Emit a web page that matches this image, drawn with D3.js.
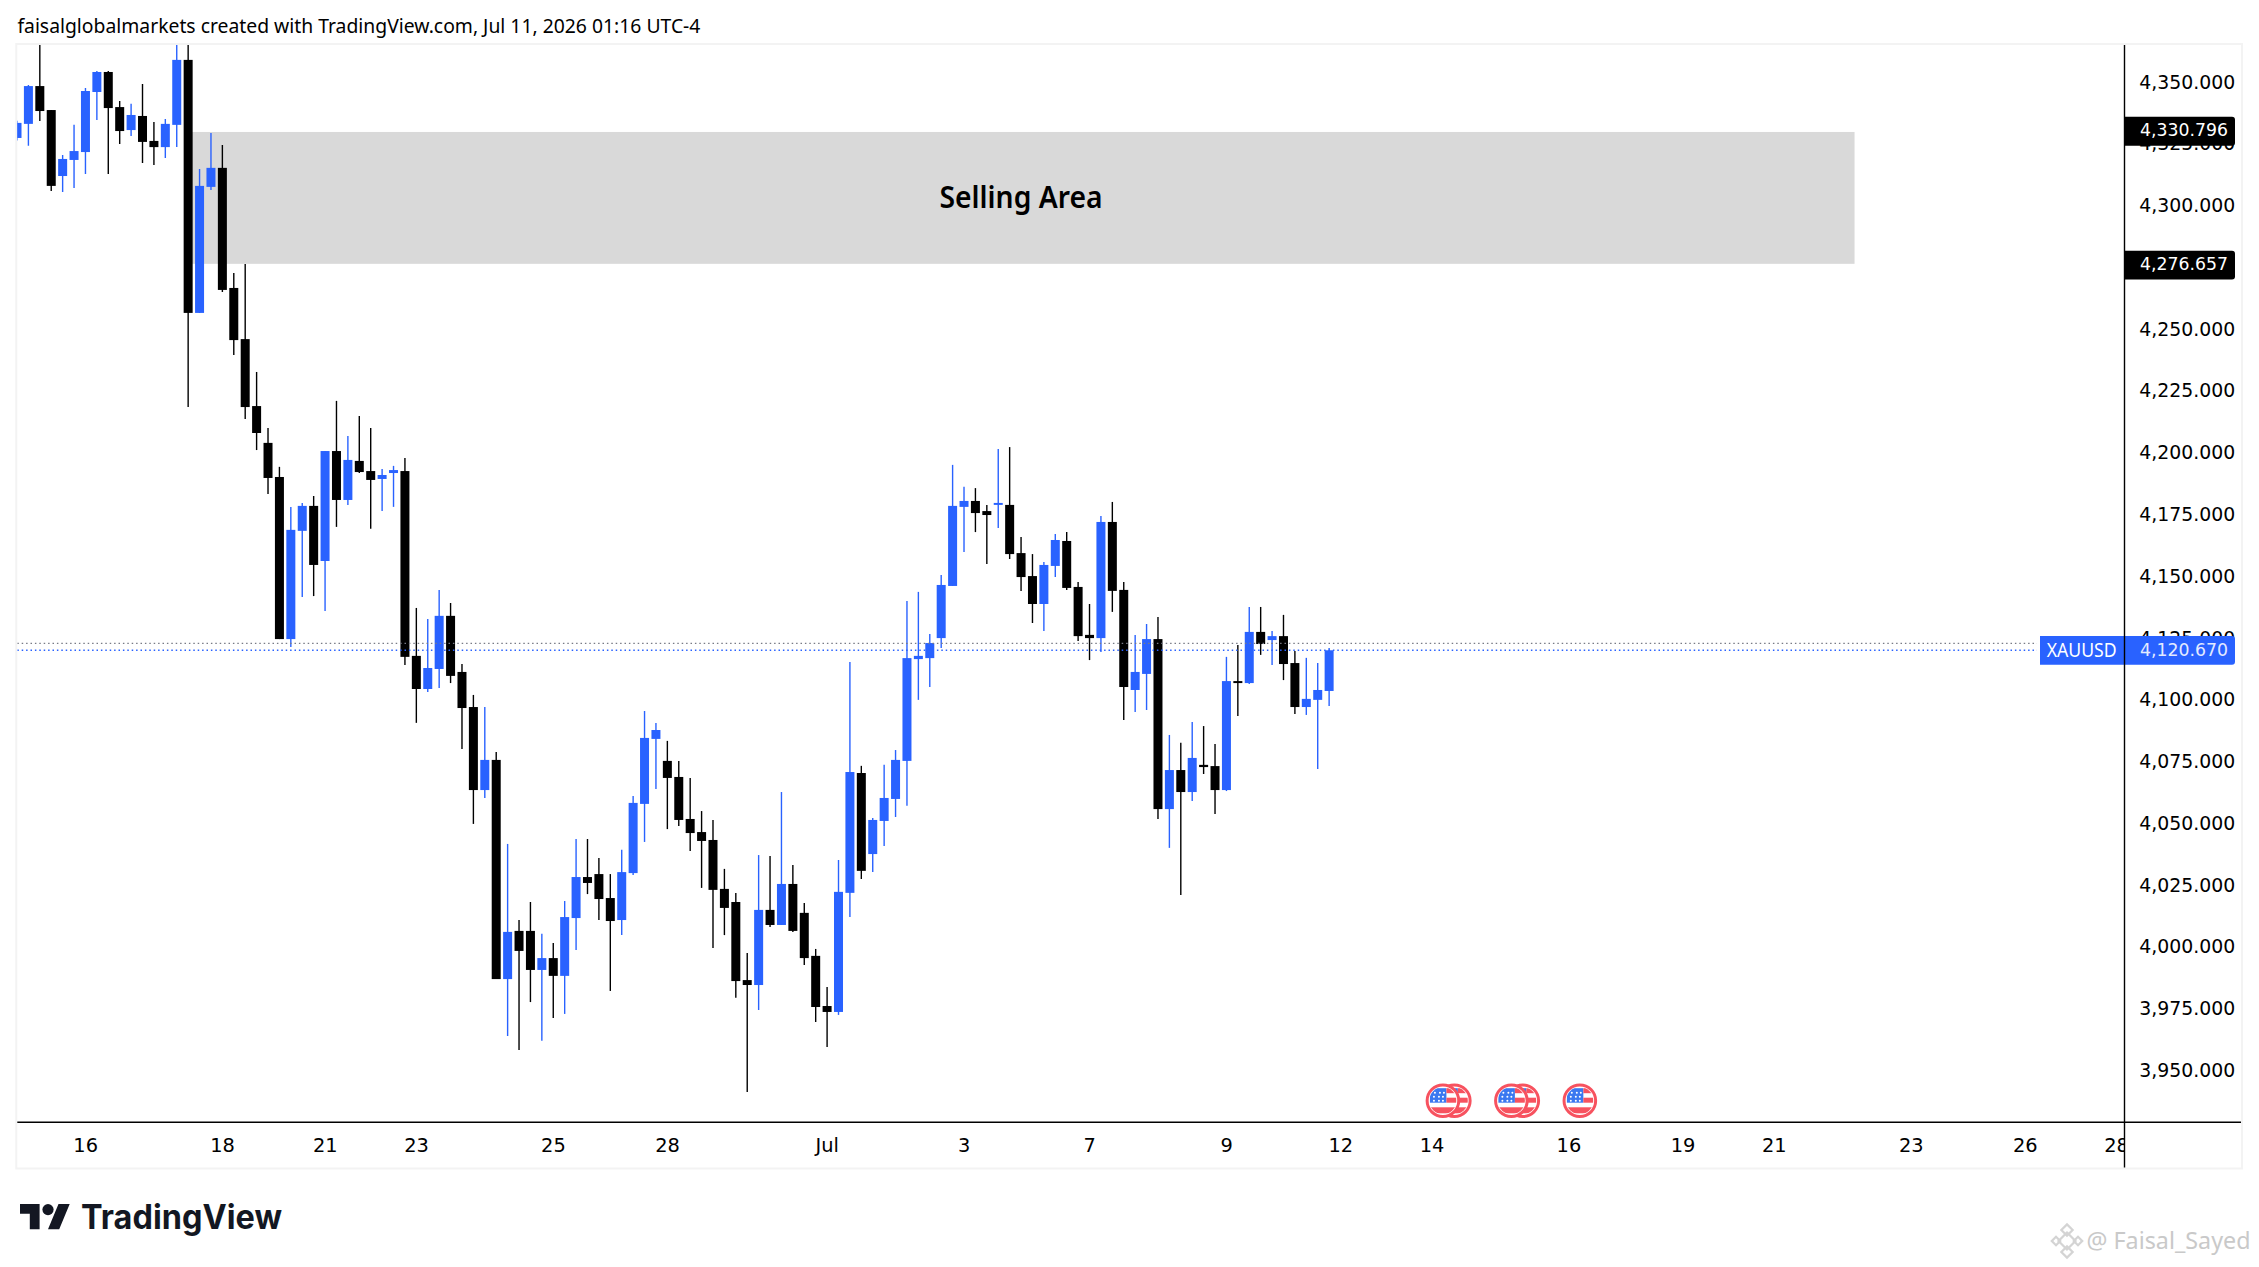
<html>
<head>
<meta charset="utf-8">
<style>
  html, body { margin: 0; padding: 0; background: #fff; }
  svg { display: block; }
  text { fill: #000; }
</style>
</head>
<body>
  <div id="chart"></div>
  <script src="https://cdn.jsdelivr.net/npm/d3@7/dist/d3.min.js"></script>
  <script>
  // OHLC, one value per bar
  var opens = [4328.0,4333.7,4349.0,4339.3,4312.6,4319.1,4322.3,4346.6,4354.7,4340.5,
    4331.2,4336.9,4326.8,4324.3,4333.3,4359.6,4257.2,4308.2,4315.9,4267.3,
    4246.6,4219.5,4204.6,4190.8,4125.2,4169.0,4179.1,4156.8,4201.3,4181.5,
    4197.3,4193.2,4190.0,4192.4,4193.2,4118.4,4105.0,4113.1,4134.6,4111.9,
    4097.7,4064.1,4076.3,3987.6,4007.1,4007.1,3991.3,3996.1,3988.9,4012.3,
    4028.9,4030.1,4020.4,4011.5,4030.5,4058.5,4084.8,4075.9,4069.4,4052.4,
    4047.1,4043.9,4024.1,4018.8,3987.2,3985.2,4015.6,4009.5,4026.1,4014.4,
    3997.0,3976.7,3974.3,4022.5,4071.0,4038.2,4051.6,4060.5,4075.9,4117.1,
    4117.5,4125.6,4146.7,4178.7,4181.1,4177.0,4179.5,4179.5,4160.0,4150.7,
    4139.4,4154.8,4164.9,4146.3,4126.9,4125.6,4172.6,4145.1,4104.6,4111.1,
    4125.2,4056.4,4072.2,4063.3,4074.3,4073.8,4064.1,4108.2,4107.4,4128.1,
    4124.8,4126.4,4115.5,4097.7,4100.6,4104.2];
  var highs = [4335,4349.4,4372,4339.3,4321.1,4333.3,4348.2,4355.1,4355.1,4343.0,
    4341.8,4349.8,4334.5,4335.7,4372,4372,4315.4,4330.0,4325.2,4273.4,
    4277.0,4233.3,4210.6,4194.9,4178.7,4180.3,4183.1,4201.3,4221.6,4207.4,
    4215.5,4210.6,4194.0,4195.3,4198.5,4137.8,4133.3,4145.1,4139.8,4115.1,
    4102.6,4097.7,4079.5,4042.3,4011.5,4018.8,4005.9,4002.2,4019.2,4044.3,
    4044.3,4036.6,4030.1,4039.9,4061.7,4096.1,4091.2,4084.0,4075.9,4069.0,
    4055.6,4052.0,4032.2,4022.4,3998.2,4037.8,4037.4,4063.3,4033.8,4018.4,
    3999.8,3984.4,4035.8,4115.9,4073.9,4052.8,4074.3,4080.3,4140.6,4144.3,
    4127.3,4151.1,4195.7,4186.8,4186.3,4179.5,4202.1,4202.9,4166.5,4159.6,
    4156.4,4167.7,4168.5,4148.3,4139.4,4175.0,4180.7,4148.3,4126.9,4131.3,
    4134.1,4086.4,4083.2,4091.6,4090.0,4082.7,4118.0,4122.8,4138.2,4138.2,
    4128.5,4135.0,4120.4,4117.6,4115.5,4121.6];
  var lows = [4327,4324.8,4334.9,4306.5,4306.1,4307.8,4313.4,4335.3,4313.4,4325.6,
    4328.8,4317.9,4317.1,4319.9,4324.3,4219.1,4257.2,4306.9,4265.7,4240.2,
    4214.3,4201.7,4183.9,4125.2,4122.0,4142.2,4142.6,4136.6,4170.6,4179.5,
    4192.4,4169.8,4177.0,4178.7,4114.7,4091.3,4103.8,4105.4,4107.4,4080.7,
    4050.4,4060.9,3987.6,3964.6,3958.9,3978.3,3962.6,3971.9,3973.5,3999.4,
    4022.0,4011.5,3982.8,4005.4,4029.7,4043.1,4064.5,4048.3,4049.6,4039.4,
    4024.5,4000.2,4005.4,3980.0,3941.9,3975.1,4008.7,4009.5,4006.7,3993.3,
    3970.2,3960.1,3973.1,4012.7,4028.1,4030.9,4041.5,4053.2,4057.7,4100.6,
    4105.8,4121.6,4146.7,4160.4,4168.5,4155.6,4170.2,4157.6,4144.7,4131.7,
    4128.5,4150.3,4145.1,4124.4,4116.7,4120.0,4136.2,4092.5,4095.7,4096.5,
    4052.4,4040.7,4021.6,4059.7,4070.6,4054.4,4063.7,4094.1,4107.0,4118.8,
    4114.7,4108.6,4094.9,4094.5,4072.6,4098.1];
  var closes = [4334.1,4349.0,4338.9,4308.6,4319.5,4322.7,4347.0,4354.7,4340.1,4330.8,
    4337.3,4326.4,4324.3,4333.7,4359.6,4257.2,4308.6,4315.9,4266.5,4246.2,
    4219.1,4208.6,4190.4,4125.2,4169.4,4179.1,4155.2,4201.3,4181.5,4197.7,
    4192.8,4189.6,4191.6,4193.6,4118.0,4105.0,4113.5,4134.6,4110.3,4097.3,
    4064.1,4076.3,3987.6,4006.7,3999.0,3991.3,3996.1,3988.9,4012.7,4028.9,
    4026.5,4020.0,4011.1,4030.9,4058.9,4085.2,4088.4,4069.0,4052.0,4046.7,
    4043.5,4023.7,4016.4,3986.8,3985.2,4015.6,4009.5,4026.1,4007.1,3996.1,
    3976.3,3974.3,4022.9,4071.4,4031.4,4052.0,4060.9,4076.3,4117.5,4118.4,
    4123.6,4147.1,4179.1,4181.1,4176.2,4175.4,4180.3,4159.6,4150.3,4139.4,
    4155.2,4165.3,4145.9,4126.4,4125.6,4172.6,4144.7,4105.8,4111.9,4125.2,
    4056.4,4072.2,4063.3,4077.1,4073.4,4064.1,4108.2,4107.4,4128.1,4123.2,
    4126.4,4115.1,4097.7,4101.0,4104.6,4120.67];

  var priceTicks = [3950,3975,4000,4025,4050,4075,4100,4125,4150,4175,4200,4225,4250,4275,4300,4325,4350];
  var timeTickBars = [6,18,27,35,47,57,71,83,94,106,116,124,136,146,154,166,176,184];
  var timeTickLabels = ['16','18','21','23','25','28','Jul','3','7','9','12','14','16','19','21','23','26','28'];
  var eventBars = [126,125,132,131,137];

  var zoneTop = 4330.796, zoneBottom = 4276.657;
  var zoneStartBar = 15, zoneEndBar = 161.05;
  var lastPrice = 4120.67, prevPrice = 4123.5;

  var blue = '#2962ff', black = '#000';
  var plotLeft = 17.3, plotTop = 45, axisX = 2124.5, axisY = 1122.3, panelRight = 2241, panelBottom = 1167.5;
  var tickFont = '"DejaVu Sans", sans-serif', textFont = '"Noto Sans", sans-serif';

  var svg = d3.select('#chart').append('svg').attr('width', 2259).attr('height', 1267);

  var x = d3.scaleLinear().domain([0, 184]).range([17, 2116.4]);
  var y = d3.scaleLinear().domain([4350, 3950]).range([83.6, 1072]);

  // header
  svg.append('text').attr('x', 17.4).attr('y', 33).attr('font-family', textFont).attr('font-size', 20)
    .attr('textLength', 683).attr('lengthAdjust', 'spacingAndGlyphs')
    .text('faisalglobalmarkets created with TradingView.com, Jul 11, 2026 01:16 UTC-4');

  // panel frame
  svg.append('rect').attr('x', plotLeft - 1).attr('y', plotTop - 1)
    .attr('width', panelRight - plotLeft + 2).attr('height', panelBottom - plotTop + 2)
    .attr('fill', 'none').attr('stroke', '#f3f3f3').attr('stroke-width', 2);

  var defs = svg.append('defs');
  defs.append('clipPath').attr('id', 'plotClip').append('rect')
    .attr('x', plotLeft).attr('y', plotTop).attr('width', axisX - plotLeft).attr('height', axisY - plotTop);
  defs.append('clipPath').attr('id', 'timeClip').append('rect')
    .attr('x', plotLeft).attr('y', axisY).attr('width', axisX - plotLeft).attr('height', panelBottom - axisY);
  defs.append('clipPath').attr('id', 'flagClip').append('circle').attr('r', 13.6);

  var plot = svg.append('g').attr('clip-path', 'url(#plotClip)');

  // selling zone, inset a hair so its edges land where the picture has them
  plot.append('rect').attr('x', x(zoneStartBar)).attr('y', y(zoneTop) + 0.9)
    .attr('width', x(zoneEndBar) - x(zoneStartBar)).attr('height', y(zoneBottom) - y(zoneTop) - 1.9)
    .attr('fill', '#d9d9d9');

  // candles
  var bars = plot.selectAll('g.bar').data(opens).enter().append('g').attr('class', 'bar');
  function barColor(i) { return closes[i] >= opens[i] ? blue : black; }
  bars.append('line')
    .attr('x1', function(d, i) { return x(i); }).attr('x2', function(d, i) { return x(i); })
    .attr('y1', function(d, i) { return y(highs[i]); }).attr('y2', function(d, i) { return y(lows[i]); })
    .attr('stroke', function(d, i) { return barColor(i); }).attr('stroke-width', 1.4);
  bars.append('rect')
    .attr('x', function(d, i) { return x(i) - 4.5; }).attr('width', 9)
    .attr('y', function(d, i) { return y(Math.max(opens[i], closes[i])); })
    .attr('height', function(d, i) { return Math.abs(y(opens[i]) - y(closes[i])); })
    .attr('fill', function(d, i) { return barColor(i); });

  plot.append('text').attr('x', 1021).attr('y', 197).attr('dy', '.35em').attr('text-anchor', 'middle')
    .attr('font-family', textFont).attr('font-weight', 600).attr('font-size', 30)
    .attr('textLength', 163).attr('lengthAdjust', 'spacingAndGlyphs')
    .text('Selling Area');

  // price lines
  plot.append('line').attr('x1', plotLeft).attr('x2', 2037).attr('y1', y(prevPrice)).attr('y2', y(prevPrice))
    .attr('stroke', '#787b86').attr('stroke-width', 1.3).attr('stroke-dasharray', '1.5 2.9');
  plot.append('line').attr('x1', plotLeft).attr('x2', 2037).attr('y1', y(lastPrice)).attr('y2', y(lastPrice))
    .attr('stroke', blue).attr('stroke-width', 1.3).attr('stroke-dasharray', '1.5 2.9');

  // economic event flags
  var flags = svg.selectAll('g.flag').data(eventBars).enter().append('g').attr('class', 'flag')
    .attr('transform', function(d) { return 'translate(' + (x(d) - 0.3) + ',1100.7)'; });
  flags.append('circle').attr('r', 15.8).attr('fill', '#fff').attr('stroke', '#f7525f').attr('stroke-width', 3);
  var flagInner = flags.append('g').attr('clip-path', 'url(#flagClip)');
  flagInner.append('rect').attr('x', -13).attr('y', -12.5).attr('width', 16.5).attr('height', 14.5).attr('fill', '#3b78f0');
  flagInner.append('rect').attr('x', 3.5).attr('y', -12.5).attr('width', 10).attr('height', 5).attr('fill', '#f7525f');
  flagInner.append('rect').attr('x', 3.5).attr('y', -3).attr('width', 10).attr('height', 5).attr('fill', '#f7525f');
  flagInner.append('rect').attr('x', -13).attr('y', 6.6).attr('width', 26).attr('height', 6).attr('fill', '#f7525f');
  [[-8,-8],[-3,-8],[1,-8],[-9,-4],[-4,-4],[0,-4],[-9,0],[-4,0],[0,0]].forEach(function(p) {
    flagInner.append('circle').attr('cx', p[0]).attr('cy', p[1]).attr('r', 1).attr('fill', '#fff');
  });

  // price axis
  var priceAxis = d3.axisRight(y).tickValues(priceTicks).tickSize(0).tickPadding(0)
    .tickFormat(function(d) { return d3.format(',.3f')(d); });
  var priceG = svg.append('g').attr('transform', 'translate(' + axisX + ',0)').call(priceAxis);
  priceG.select('.domain').remove();
  priceG.selectAll('text').attr('x', 14.8).attr('dy', '.24em').attr('text-anchor', 'start')
    .attr('font-family', tickFont).attr('font-size', 18.8)
    .attr('textLength', 96).attr('lengthAdjust', 'spacingAndGlyphs').style('fill', '#000');

  // time axis
  var timeAxis = d3.axisBottom(x).tickValues(timeTickBars).tickSize(0).tickPadding(0)
    .tickFormat(function(d, i) { return timeTickLabels[i]; });
  var timeG = svg.append('g').attr('clip-path', 'url(#timeClip)').append('g')
    .attr('transform', 'translate(-0.3,' + axisY + ')').call(timeAxis);
  timeG.select('.domain').remove();
  timeG.selectAll('text').attr('y', 23).attr('dy', '.35em')
    .attr('font-family', tickFont).attr('font-size', 19.4).style('fill', '#000');

  // price labels
  function priceLabel(price, fill, txtFill, left) {
    var cy = y(price);
    svg.append('path').attr('fill', fill)
      .attr('d', 'M' + left + ',' + (cy - 14.2) + 'H2232a3,3 0 0 1 3,3V' + (cy + 11.6) + 'a3,3 0 0 1 -3,3H' + left + 'Z');
    svg.append('text').attr('x', 2140).attr('y', cy).attr('dy', '.3em')
      .attr('font-family', tickFont).attr('font-size', 18)
      .attr('textLength', 88).attr('lengthAdjust', 'spacingAndGlyphs').style('fill', txtFill)
      .text(d3.format(',.3f')(price));
  }
  priceLabel(zoneTop, '#000', '#fff', axisX);
  priceLabel(zoneBottom, '#000', '#fff', axisX);
  priceLabel(lastPrice, blue, '#e3eaff', 2040);
  svg.append('text').attr('x', 2046.7).attr('y', y(lastPrice)).attr('dy', '.36em')
    .attr('font-family', textFont).attr('font-size', 19).attr('textLength', 70)
    .attr('lengthAdjust', 'spacingAndGlyphs').style('fill', '#fff').text('XAUUSD');

  // axis lines on top
  svg.append('line').attr('x1', axisX).attr('x2', axisX).attr('y1', plotTop).attr('y2', panelBottom)
    .attr('stroke', '#000').attr('stroke-width', 1.4);
  svg.append('line').attr('x1', plotLeft).attr('x2', panelRight).attr('y1', axisY).attr('y2', axisY)
    .attr('stroke', '#000').attr('stroke-width', 1.4);

  // TradingView logo
  var logo = svg.append('g').attr('transform', 'translate(20,1198.4) scale(1.4)').attr('fill', '#131722');
  logo.append('path').attr('d', 'M14 22H7V11H0V4h14v18zM28 22h-8l7.5-18h8L28 22z');
  logo.append('circle').attr('cx', 20).attr('cy', 8).attr('r', 4);
  svg.append('text').attr('x', 81).attr('y', 1229.3).attr('font-family', '"Inter", sans-serif').attr('font-weight', 700)
    .attr('font-size', 33.5).attr('textLength', 201).attr('lengthAdjust', 'spacingAndGlyphs')
    .style('fill', '#131722').text('TradingView');

  // watermark
  var mark = svg.append('g').attr('transform', 'translate(2067,1241)').attr('fill', 'none')
    .attr('stroke', '#d4d4d4').attr('stroke-width', 2.2);
  [[0,0,6],[0,-11,4],[0,11,4],[-11,0,3],[11,0,3]].forEach(function(p) {
    mark.append('rect').attr('x', -p[2]).attr('y', -p[2]).attr('width', p[2] * 2).attr('height', p[2] * 2)
      .attr('transform', 'translate(' + p[0] + ',' + p[1] + ') rotate(45)');
  });
  svg.append('text').attr('x', 2086.5).attr('y', 1249).attr('font-family', textFont).attr('font-size', 24)
    .attr('textLength', 164).attr('lengthAdjust', 'spacingAndGlyphs').style('fill', '#c9c9c9').text('@ Faisal_Sayed');
  </script>
</body>
</html>
